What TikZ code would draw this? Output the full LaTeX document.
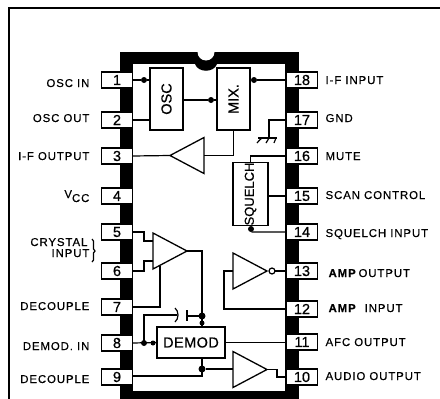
\documentclass[tikz,border=0pt]{standalone}
\usepackage{fontspec}
\setmainfont[LetterSpace=8,FakeBold=0.4]{Liberation Sans}
\newfontfamily\pinfont[FakeBold=0.6]{Liberation Sans}
\usetikzlibrary{calc,shapes.geometric}
\newcommand{\pinleftx}{117}
\newcommand{\pinrightx}{302}
\newcommand{\labelleftx}{90}
\newcommand{\labelrightx}{325}
\newcommand{\labelsize}{\fontsize{11.4}{11.4}\selectfont}
\newcommand{\numsize}{\pinfont\fontsize{14.5}{14.5}\selectfont}

\begin{document}
\begin{tikzpicture}[x=1pt,y=-1pt,line width=1.2pt,line join=miter]
\tikzstyle{pinbox}=[draw,fill=white,line width=1.2pt,minimum width=31pt,minimum height=16pt,inner sep=0pt,outer sep=0pt,font=\numsize]
\tikzstyle{leftlabel}=[anchor=east,inner sep=0pt,text height=8pt,text depth=0pt,font=\labelsize]
\tikzstyle{rightlabel}=[anchor=west,inner sep=0pt,text height=8pt,text depth=0pt,font=\labelsize]
\tikzstyle{block}=[draw,line width=1.3pt,inner sep=0pt,outer sep=0pt,font=\numsize]
\tikzstyle{buffer}=[draw,line width=1.3pt,isosceles triangle,isosceles triangle stretches,minimum height=34pt,minimum width=36pt,inner sep=0pt,outer sep=0pt,anchor=apex]
\tikzstyle{dot}=[circle,fill,inner sep=0pt,outer sep=0pt,minimum size=6pt]
\useasboundingbox (0,0) rectangle (440,399);
\clip (0,0) rectangle (440,399);

\draw[line width=2pt] (9,399) -- (9,8) -- (440,8);

% package outline
\fill (120,52) rectangle (299,400);
\fill[white] (133,64) rectangle (285,391);
\fill (195,60) -- (195,64) .. controls (198,73) and (214,73) .. (217,64) -- (217,60) -- cycle;
\fill[white] (206,52) circle [radius=8.5];

\foreach \num/\ypos/\laby/\name in {1/80/83/OSC IN,2/120/118/OSC OUT,3/156/156/I-F OUTPUT,7/307/306/DECOUPLE,8/343/346/DEMOD. IN,9/377/379/DECOUPLE}{
  \node (p\num) [pinbox] at (\pinleftx,\ypos) {\num};
  \node (l\num) [leftlabel] at (\labelleftx,\laby) {\name};
}
\foreach \num/\ypos in {4/196,5/232,6/271}{
  \node (p\num) [pinbox] at (\pinleftx,\ypos) {\num};
}
\foreach \num/\ypos/\laby/\name in {18/80/80/I-F INPUT,17/120/118/GND,16/156/156/MUTE,15/196/195/SCAN CONTROL,14/232/233/SQUELCH INPUT,11/342/342/AFC OUTPUT,10/377/376/AUDIO OUTPUT}{
  \node (p\num) [pinbox] at (\pinrightx,\ypos) {\num};
  \node (l\num) [rightlabel] at (\labelrightx,\laby) {\name};
}
\foreach \num/\ypos in {13/271,12/309}{
  \node (p\num) [pinbox] at (\pinrightx,\ypos) {\num};
}
\node (lvcc) [leftlabel] at (\labelleftx,194) {V\raisebox{-4pt}{CC}};
\node (lcrystal) [leftlabel] at (88,242) {CRYSTAL};
\node (linput) [leftlabel] at (\labelleftx,253) {INPUT};
\node (lamp) [rightlabel] at (328,273) {\textbf{AMP}\,OUTPUT};
\node (lampin) [rightlabel] at (328,308) {\textbf{AMP}\hspace{8pt}INPUT};
\draw (92,239) .. controls (96,240) and (91,250) .. (95,251) .. controls (91,252) and (96,261) .. (92,262);

\node (osc) [block,minimum width=33pt,minimum height=62pt] at (166.5,99) {\rotatebox{90}{OSC}};
\node (mix) [block,minimum width=33pt,minimum height=62pt] at (233.5,99) {\rotatebox{90}{MIX.}};
\node (squelch) [block,minimum width=35pt,minimum height=62pt] at (250.5,194) {\rotatebox{90}{\fontsize{13}{13}\selectfont SQUELCH}};
\node (demod) [block,minimum width=68pt,minimum height=31pt] at (191,342.5) {\addfontfeature{LetterSpace=3}DEMOD};

\node (ifamp) [buffer,shape border rotate=180] at (170,155.5) {};
\node (xtalamp) [buffer] at (187,251) {};
\node (ampinv) [buffer] at (267,271) {};
\node (audioamp) [buffer] at (267,369.5) {};
\node (bubble) [draw,circle,fill=white,inner sep=0pt,outer sep=0pt,minimum size=6pt] at (272,271) {};

\node (dosc) [dot] at (144,80) {};
\node (dmix) [dot] at (211,100) {};
\node (dif) [dot] at (254,80) {};
\node (dsq) [dot] at (251,229) {};
\node (ddemoda) [dot] at (144,343) {};
\node (ddemodb) [dot,minimum size=5pt] at (153,343) {};
\node (dcap) [dot,minimum size=7pt] at (202,316) {};
\node (dtop) [dot,minimum size=5pt] at (202,323) {};
\node (daudio) [dot,minimum size=7pt] at (202,369) {};

\draw (p1.east) -- (dosc) -- (dosc -| osc.west);
\draw (p2.east) -- (p2.east -| osc.west);
\draw (dmix -| osc.east) -- (dmix) -- (dmix -| mix.west);
\draw (p18.west) -- (dif) -- (dif -| mix.east);
\draw (p3.east) -- (ifamp.apex);
\draw (ifamp.lower side) -| (mix.south);

% ground
\draw (p17.west) -| (269,138);
\draw (258,138) -- (277,138);
\draw (262,138) .. controls (260,139) and (259,141) .. (257,143);
\draw (269,138) -- (266,143);
\draw (276,138) -- (274,143);

\draw (p16.west) -| (squelch.north);
\draw (p15.west) -- (p15.west -| squelch.east);
\draw (p14.west) -- (252,232) -- (dsq);

\draw (p5.east) -| (144,241) -- (153,241);
\draw (p6.east) -| (144,261) -- (153,261);
\draw (p7.east) -| (160,266);
\draw (xtalamp.apex) -| (dtop.center);
\draw (dtop.center) -- (dtop |- demod.north);

\draw (p8.east) -- (demod.west);
\draw (ddemoda.center) |- (177,315);
\draw (175,308) .. controls (179,311) and (179,319) .. (175,322);
\draw (187,310) -- (187,321);
\draw (187,316) -- (dcap);

\draw (demod.south -| daudio) -- (daudio.center) -- (202,376) -- (p9.east |- 0,376);
\draw (daudio) -- (daudio -| audioamp.lower side);
\draw (audioamp.apex) -- (277,369.5) |- (p10.west);
\draw (demod.east) -- (p11.west |- demod.east);

\draw (bubble.east) -- (p13.west);
\draw (ampinv.lower side) -- (224,271) |- (p12.west);
\end{tikzpicture}
\end{document}
